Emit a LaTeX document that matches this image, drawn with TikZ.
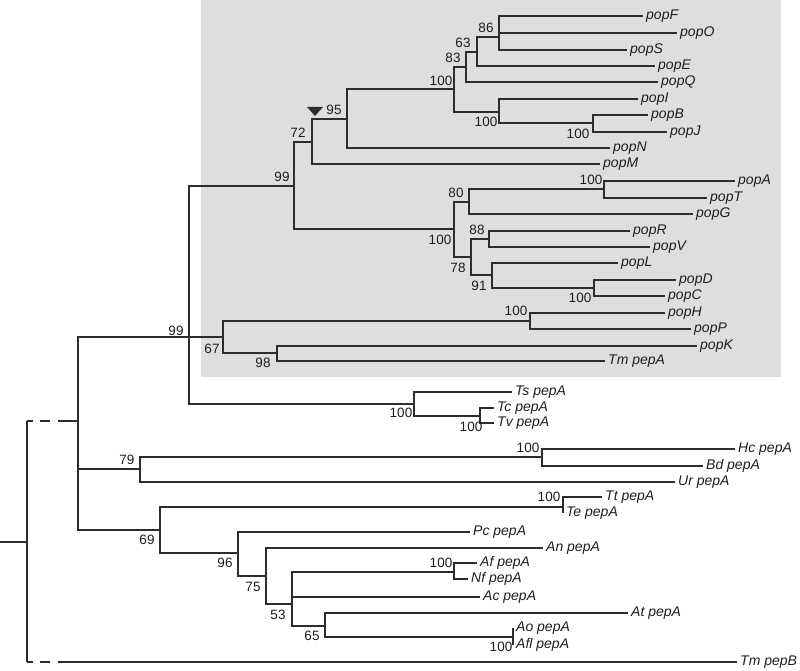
\documentclass[tikz,border=0pt]{standalone}
\usepackage{fontspec}
\setmainfont{Liberation Sans}
\definecolor{linec}{RGB}{45,45,45}
\definecolor{textc}{RGB}{30,30,30}
\definecolor{boxc}{RGB}{221,222,224}
\newcommand\leaffont{\fontsize{14}{16}\selectfont\itshape}
\newcommand\numfont{\fontsize{13.5}{15}\selectfont}
\begin{document}
\begin{tikzpicture}[x=1pt,y=-1pt,
  br/.style={draw=linec, line width=1.1pt},
  leaf/.style={anchor=west, inner sep=3pt, font=\leaffont, text=textc},
  bs/.style={font=\numfont, text=textc, inner sep=0pt}]
\useasboundingbox (0,0) rectangle (800,671);
\fill[boxc] (201,0) rectangle (781,377);
% ---- coordinates of internal nodes
\coordinate (stub) at (0,542);
\coordinate (root) at (27,542);
\coordinate (rtop) at (27,421);
\coordinate (rbot) at (27,662);
\coordinate (dA) at (58,421);
\coordinate (dB) at (58,662);
\coordinate (nA) at (78,421);
\coordinate (n99b) at (189,337);
\coordinate (n99a) at (294,186);
\coordinate (n72) at (312,142);
\coordinate (n95) at (347,119);
\coordinate (n100a) at (454,89);
\coordinate (n83) at (466,67);
\coordinate (n63) at (477,52);
\coordinate (n86) at (499,37);
\coordinate (n100b) at (499,112);
\coordinate (n100c) at (593,123);
\coordinate (n100e) at (454,229);
\coordinate (n80) at (469,202);
\coordinate (n100d) at (604,189);
\coordinate (n78) at (471,257);
\coordinate (n88) at (489,239);
\coordinate (n91) at (492,275);
\coordinate (n100f) at (594,288);
\coordinate (n67) at (223,337);
\coordinate (n100g) at (530,321);
\coordinate (n98) at (277,353);
\coordinate (nTs) at (414,404);
\coordinate (n100i) at (480,416);
\coordinate (n79) at (140,469);
\coordinate (n100j) at (542,457);
\coordinate (n69) at (160,530);
\coordinate (n100k) at (563,507);
\coordinate (n96) at (238,553);
\coordinate (n75) at (266,576);
\coordinate (n53) at (292,604);
\coordinate (n100l) at (454,572);
\coordinate (n65) at (325,626);
\coordinate (n100m) at (513,637);
% ---- leaves
\node[leaf] (popF) at (643,16) {popF};
\node[leaf] (popO) at (677,33) {popO};
\node[leaf] (popS) at (627,50) {popS};
\node[leaf] (popE) at (655,66) {popE};
\node[leaf] (popQ) at (658,82) {popQ};
\node[leaf] (popI) at (638,99) {popI};
\node[leaf] (popB) at (648,115) {popB};
\node[leaf] (popJ) at (667,132) {popJ};
\node[leaf] (popN) at (610,148) {popN};
\node[leaf] (popM) at (600,164) {popM};
\node[leaf] (popA) at (735,181) {popA};
\node[leaf] (popT) at (707,198) {popT};
\node[leaf] (popG) at (693,214) {popG};
\node[leaf] (popR) at (630,231) {popR};
\node[leaf] (popV) at (650,247) {popV};
\node[leaf] (popL) at (618,263) {popL};
\node[leaf] (popD) at (676,280) {popD};
\node[leaf] (popC) at (665,296) {popC};
\node[leaf] (popH) at (665,313) {popH};
\node[leaf] (popP) at (691,329) {popP};
\node[leaf] (popK) at (697,346) {popK};
\node[leaf] (TmA) at (605,361) {Tm pepA};
\node[leaf] (Ts) at (512,392) {Ts pepA};
\node[leaf] (Tc) at (494,408) {Tc pepA};
\node[leaf] (Tv) at (494,423) {Tv pepA};
\node[leaf] (Hc) at (735,449) {Hc pepA};
\node[leaf] (Bd) at (703,466) {Bd pepA};
\node[leaf] (Ur) at (675,482) {Ur pepA};
\node[leaf] (Tt) at (602,497) {Tt pepA};
\node[leaf] (Te) at (563,513) {Te pepA};
\node[leaf] (Pc) at (470,532) {Pc pepA};
\node[leaf] (An) at (543,548) {An pepA};
\node[leaf] (Af) at (477,563) {Af pepA};
\node[leaf] (Nf) at (468,579) {Nf pepA};
\node[leaf] (Ac) at (480,597) {Ac pepA};
\node[leaf] (At) at (628,613) {At pepA};
\node[leaf] (Ao) at (513,628) {Ao pepA};
\node[leaf] (Afl) at (513,645) {Afl pepA};
\node[leaf] (TmB) at (737,662) {Tm pepB};
% ---- branches
\draw[br] (stub) -- (root);
\draw[br] (rtop) -- (rbot);
\draw[br, dash pattern=on 6pt off 7pt on 10pt off 8pt] (rtop) -- (dA);
\draw[br] (dA) -- (nA);
\draw[br, dash pattern=on 6pt off 7pt on 10pt off 8pt] (rbot) -- (dB);
\draw[br] (dB) -- (TmB.west);
\draw[br] (nA) |- (n99b) (nA) |- (n79) (nA) |- (n69);
\draw[br] (n99b) |- (n99a) (n99b) |- (n67) (n99b) |- (nTs);
\draw[br] (n99a) |- (n72) (n99a) |- (n100e);
\draw[br] (n72) |- (n95) (n72) |- (popM.west);
\draw[br] (n95) |- (n100a) (n95) |- (popN.west);
\draw[br] (n100a) |- (n83) (n100a) |- (n100b);
\draw[br] (n83) |- (n63) (n83) |- (popQ.west);
\draw[br] (n63) |- (n86) (n63) |- (popE.west);
\draw[br] (n86) |- (popF.west) (n86) |- (popO.west) (n86) |- (popS.west);
\draw[br] (n100b) |- (popI.west) (n100b) |- (n100c);
\draw[br] (n100c) |- (popB.west) (n100c) |- (popJ.west);
\draw[br] (n100e) |- (n80) (n100e) |- (n78);
\draw[br] (n80) |- (n100d) (n80) |- (popG.west);
\draw[br] (n100d) |- (popA.west) (n100d) |- (popT.west);
\draw[br] (n78) |- (n88) (n78) |- (n91);
\draw[br] (n88) |- (popR.west) (n88) |- (popV.west);
\draw[br] (n91) |- (popL.west) (n91) |- (n100f);
\draw[br] (n100f) |- (popD.west) (n100f) |- (popC.west);
\draw[br] (n67) |- (n100g) (n67) |- (n98);
\draw[br] (n100g) |- (popH.west) (n100g) |- (popP.west);
\draw[br] (n98) |- (popK.west) (n98) |- (TmA.west);
\draw[br] (nTs) |- (Ts.west) (nTs) |- (n100i);
\draw[br] (n100i) |- (Tc.west) (n100i) |- (Tv.west);
\draw[br] (n79) |- (n100j) (n79) |- (Ur.west);
\draw[br] (n100j) |- (Hc.west) (n100j) |- (Bd.west);
\draw[br] (n69) |- (n100k) (n69) |- (n96);
\draw[br] (n100k) |- (Tt.west) (n100k) |- (Te.west);
\draw[br] (n96) |- (Pc.west) (n96) |- (n75);
\draw[br] (n75) |- (An.west) (n75) |- (n53);
\draw[br] (n53) |- (n100l) (n53) |- (Ac.west) (n53) |- (n65);
\draw[br] (n100l) |- (Af.west) (n100l) |- (Nf.west);
\draw[br] (n65) |- (At.west) (n65) |- (n100m);
\draw[br] (n100m) |- (Ao.west) (n100m) |- (Afl.west);
% ---- marker
\fill[linec] (307,107) -- (323,107) -- (315,116) -- cycle;
% ---- support values
\node[bs] (L86) at (486,28) {86};
\node[bs] (L63) at (463,43) {63};
\node[bs] (L83) at (453,58) {83};
\node[bs] (L100a) at (441,81) {100};
\node[bs] (L100b) at (486,122) {100};
\node[bs] (L100c) at (578,134) {100};
\node[bs] (L95) at (334,110) {95};
\node[bs] (L72) at (298,133) {72};
\node[bs] (L99a) at (282,177) {99};
\node[bs] (L100d) at (591,180) {100};
\node[bs] (L80) at (456,193) {80};
\node[bs] (L100e) at (440,240) {100};
\node[bs] (L88) at (477,230) {88};
\node[bs] (L78) at (458,268) {78};
\node[bs] (L91) at (479,286) {91};
\node[bs] (L100f) at (580,298) {100};
\node[bs] (L100g) at (516,311) {100};
\node[bs] (L67) at (212,349) {67};
\node[bs] (L98) at (263,363) {98};
\node[bs] (L99b) at (176,331) {99};
\node[bs] (L100h) at (401,413) {100};
\node[bs] (L100i) at (471,427) {100};
\node[bs] (L100j) at (528,448) {100};
\node[bs] (L79) at (127,460) {79};
\node[bs] (L100k) at (549,497) {100};
\node[bs] (L69) at (147,540) {69};
\node[bs] (L96) at (225,563) {96};
\node[bs] (L75) at (253,587) {75};
\node[bs] (L53) at (278,615) {53};
\node[bs] (L65) at (312,636) {65};
\node[bs] (L100l) at (441,563) {100};
\node[bs] (L100m) at (501,647) {100};
\end{tikzpicture}
\end{document}
